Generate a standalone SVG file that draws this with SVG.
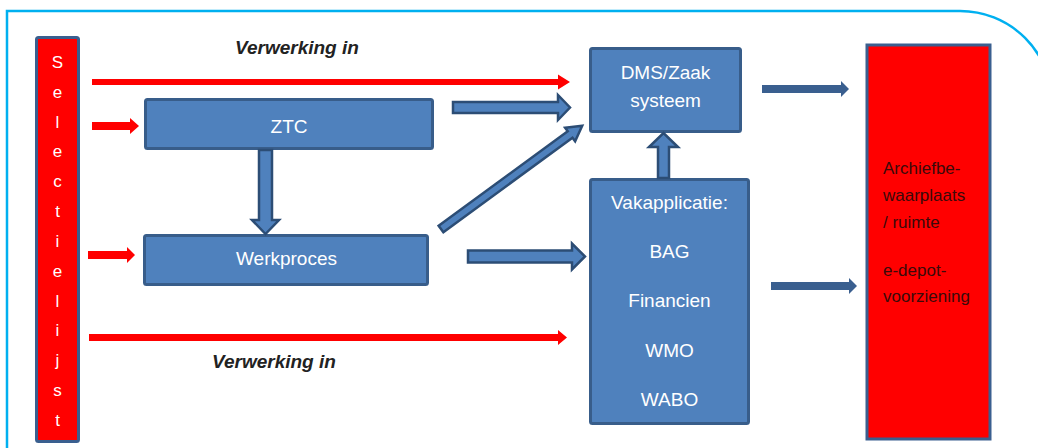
<svg xmlns="http://www.w3.org/2000/svg" width="1038" height="448" viewBox="0 0 1038 448">
<style>
.frame{fill:none;stroke:#00B0F0;stroke-width:2.5}
.box{fill:#4F81BD;stroke:#385D8A;stroke-width:3}
.redbox{fill:#FF0000;stroke:#3A5F8F;stroke-width:3}
.wt{font-family:"Liberation Sans",Arial,sans-serif;font-size:19px;fill:#FFFFFF;text-anchor:middle}
.sel{font-family:"Liberation Sans",Arial,sans-serif;font-size:17px;fill:#FFFFFF;text-anchor:middle}
.dk{font-family:"Liberation Sans",Arial,sans-serif;font-size:17px;fill:#3A0A0A}
.lbl{font-family:"Liberation Sans",Arial,sans-serif;font-size:19px;font-weight:bold;font-style:italic;fill:#222222}
.red{fill:#FF0000}
.blk{fill:#4F81BD;stroke:#2C4D75;stroke-width:2.5;stroke-linejoin:miter}
.sol{fill:#3A5F8F}
</style>
<path class="frame" d="M7,448 V11 H960 A92,92 0 0 1 1052,103"/>

<g id="selectielijst">
<rect class="redbox" x="36.5" y="37.5" width="42" height="404" rx="2"/>
<text class="sel" x="57.5" y="68">S</text>
<text class="sel" x="57.5" y="98">e</text>
<text class="sel" x="57.5" y="128">l</text>
<text class="sel" x="57.5" y="157">e</text>
<text class="sel" x="57.5" y="187">c</text>
<text class="sel" x="57.5" y="217">t</text>
<text class="sel" x="57.5" y="247">i</text>
<text class="sel" x="57.5" y="277">e</text>
<text class="sel" x="57.5" y="307">l</text>
<text class="sel" x="57.5" y="336">i</text>
<text class="sel" x="57.5" y="366">j</text>
<text class="sel" x="57.5" y="396">s</text>
<text class="sel" x="57.5" y="426">t</text>
</g>

<g id="ztc">
<rect class="box" x="145.5" y="99.5" width="287" height="49" rx="2"/>
<text class="wt" x="289" y="132.5">ZTC</text>
</g>

<g id="werkproces">
<rect class="box" x="144.5" y="235.5" width="283" height="49" rx="2"/>
<text class="wt" x="286.5" y="264.5">Werkproces</text>
</g>

<g id="dms">
<rect class="box" x="590.5" y="48.5" width="150" height="83" rx="2"/>
<text class="wt" x="665.5" y="79">DMS/Zaak</text>
<text class="wt" x="665.5" y="107">systeem</text>
</g>

<g id="vakapplicatie">
<rect class="box" x="590.5" y="179.5" width="158" height="244" rx="2"/>
<text class="wt" x="669.5" y="208.5">Vakapplicatie:</text>
<text class="wt" x="669.5" y="258">BAG</text>
<text class="wt" x="669.5" y="307">Financien</text>
<text class="wt" x="669.5" y="357">WMO</text>
<text class="wt" x="669.5" y="406">WABO</text>
</g>

<g id="archief">
<rect class="redbox" x="867" y="45" width="123" height="394" stroke-width="4"/>
<text class="dk" x="883" y="174">Archiefbe-</text>
<text class="dk" x="883" y="201">waarplaats</text>
<text class="dk" x="883" y="228">/ ruimte</text>
<text class="dk" x="883" y="276">e-depot-</text>
<text class="dk" x="883" y="302">voorziening</text>
</g>

<g id="labels">
<text class="lbl" x="235" y="54">Verwerking in</text>
<text class="lbl" x="212" y="368">Verwerking in</text>
</g>

<g id="connectors">
<polygon class="red" points="92,79 558,79 558,74.5 570,82 558,89.5 558,85 92,85"/>
<polygon class="red" points="92,122 130,122 130,118 139,126 130,134 130,130 92,130"/>
<polygon class="red" points="88,251 127,251 127,247 135,255 127,263 127,259 88,259"/>
<polygon class="red" points="89,334 558,334 558,330 567,337.5 558,345 558,341 89,341"/>
<polygon class="blk" points="453,102 558,102 558,95 570,107.5 558,120 558,113 453,113"/>
<polygon class="blk" points="468,250.5 572,250.5 572,243.5 585,256.5 572,269.5 572,262.5 468,262.5"/>
<polygon class="blk" points="259,150 272,150 272,220 279,220 265.5,234 252,220 259,220"/>
<polygon class="blk" points="658,178 669,178 669,147 678,147 663.5,133 649,147 658,147"/>
<polygon class="blk" transform="translate(441,229) rotate(-36.2)" points="0,-4 160,-4 160,-8.5 175,0 160,8.5 160,4 0,4"/>
<polygon class="sol" points="762,85 841,85 841,81 849,89 841,97 841,93 762,93"/>
<polygon class="sol" points="771,282 849,282 849,278 857,286 849,294 849,290 771,290"/>
</g>
</svg>
